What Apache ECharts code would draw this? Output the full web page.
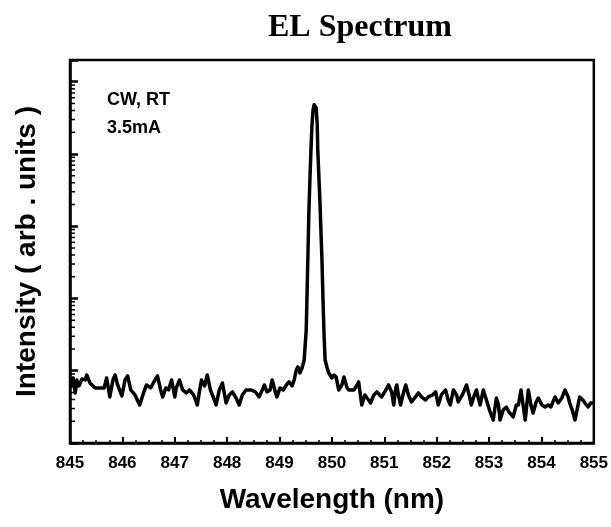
<!DOCTYPE html>
<html>
<head>
<meta charset="utf-8">
<title>EL Spectrum</title>
<script src="https://cdn.jsdelivr.net/npm/echarts@6/dist/echarts.min.js"></script>
<style>
    html, body { margin: 0; padding: 0; background: #fff; }
    #main { width: 611px; height: 527px; }
</style>
</head>
<body>
<div id="main"></div>
<script>
// wavelength (nm)
var wavelength = [
    845.02, 845.06, 845.10, 845.13, 845.17, 845.23, 845.29, 845.32, 845.38, 845.48,
    845.57, 845.65, 845.70, 845.76, 845.82, 845.86, 845.91, 845.99, 846.05, 846.10,
    846.16, 846.24, 846.33, 846.41, 846.46, 846.54, 846.62, 846.67, 846.73, 846.77,
    846.83, 846.88, 846.94, 847.00, 847.03, 847.09, 847.15, 847.22, 847.28, 847.36,
    847.43, 847.47, 847.51, 847.57, 847.62, 847.68, 847.74, 847.79, 847.85, 847.91,
    847.98, 848.04, 848.10, 848.17, 848.23, 848.29, 848.36, 848.46, 848.54, 848.61,
    848.67, 848.71, 848.76, 848.82, 848.86, 848.92, 848.95, 849.01, 849.07, 849.13,
    849.18, 849.24, 849.28, 849.32, 849.35, 849.39, 849.43, 849.47, 849.51, 849.54,
    849.56, 849.58, 849.60, 849.62, 849.64, 849.66, 849.68, 849.70, 849.72, 849.73,
    849.75, 849.77, 849.79, 849.81, 849.83, 849.85, 849.87, 849.91, 849.94, 850.00,
    850.04, 850.08, 850.13, 850.19, 850.23, 850.29, 850.32, 850.42, 850.48, 850.51,
    850.57, 850.63, 850.67, 850.70, 850.74, 850.80, 850.86, 850.91, 850.95, 851.03,
    851.08, 851.14, 851.18, 851.22, 851.24, 851.27, 851.31, 851.37, 851.41, 851.46,
    851.52, 851.58, 851.65, 851.71, 851.79, 851.84, 851.92, 851.98, 852.03, 852.09,
    852.17, 852.22, 852.26, 852.32, 852.38, 852.41, 852.49, 852.57, 852.62, 852.66,
    852.72, 852.76, 852.79, 852.83, 852.89, 852.95, 853.02, 853.08, 853.14, 853.18,
    853.21, 853.27, 853.33, 853.38, 853.46, 853.52, 853.56, 853.61, 853.65, 853.69,
    853.75, 853.80, 853.84, 853.90, 853.94, 854.01, 854.07, 854.13, 854.18, 854.26,
    854.32, 854.39, 854.45, 854.51, 854.54, 854.60, 854.64, 854.70, 854.73, 854.79,
    854.83, 854.89, 854.94, 854.98
];

// intensity (arb. units), log axis
var intensity = [
    6.36, 7.95, 4.93, 7.46, 6.16, 7.70, 7.46, 8.74, 6.78, 5.78,
    5.78, 5.78, 7.95, 4.34, 7.46, 8.74, 6.36, 4.48, 7.46, 8.47,
    5.42, 4.62, 3.36, 5.09, 6.36, 5.78, 7.46, 8.47, 5.42, 4.34,
    5.78, 5.42, 7.46, 4.34, 5.78, 7.46, 5.42, 4.93, 5.42, 4.62,
    3.36, 5.09, 7.46, 6.16, 8.74, 5.42, 4.20, 3.36, 5.42, 6.78,
    3.58, 4.62, 5.09, 4.20, 3.36, 4.62, 5.42, 5.42, 5.09, 4.34,
    5.42, 6.36, 5.09, 5.42, 7.46, 5.09, 4.34, 5.78, 5.42, 6.36,
    7.00, 6.16, 7.46, 10.26, 11.29, 9.32, 10.93, 14.11, 36.7, 342,
    1530, 4390, 11430, 25370, 40950, 48010, 49580, 43640, 25370, 11430,
    5150, 2320, 892, 342, 95.6, 31.3, 14.11, 10.93, 9.32, 7.95,
    8.74, 8.21, 5.42, 6.36, 8.21, 5.78, 5.42, 5.42, 6.36, 7.00,
    3.36, 4.62, 4.20, 3.94, 3.58, 4.62, 5.09, 4.62, 4.34, 5.42,
    6.36, 5.09, 3.36, 5.78, 6.36, 4.62, 3.36, 5.09, 6.36, 4.62,
    3.70, 4.20, 4.93, 4.34, 3.94, 4.34, 4.62, 5.09, 3.36, 4.62,
    5.42, 3.94, 3.36, 5.42, 4.62, 3.70, 4.62, 6.36, 4.62, 3.36,
    4.62, 5.42, 4.34, 3.36, 5.42, 3.94, 2.69, 2.08, 4.20, 3.36,
    2.08, 2.87, 3.15, 2.69, 2.29, 3.36, 3.36, 5.42, 3.36, 2.08,
    5.42, 3.36, 2.60, 3.70, 4.20, 3.36, 3.15, 3.36, 3.15, 4.34,
    3.58, 4.20, 5.42, 4.34, 3.58, 2.69, 2.08, 3.36, 4.34, 3.94,
    3.58, 3.15, 3.58, 3.58
];

var xMin = 845, xMax = 855;
var yMin = 1, yMax = 200000;
var noteLines = ['CW, RT', '3.5mA'];

var sansBold = 'bold 18px "Liberation Sans", Arial, sans-serif';

function toPairs() {
    var result = [];
    for (var i = 0, len = wavelength.length; i < len; i++) {
        result.push([wavelength[i], intensity[i]]);
    }
    return result;
}

var myChart = echarts.init(document.getElementById('main'), null, { renderer: 'canvas' });

myChart.setOption({
    backgroundColor: '#fff',
    animation: false,
    grid: {
        left: 70,
        right: 14,
        top: 60,
        bottom: 84,
        show: true,
        borderColor: '#000',
        borderWidth: 2.5,
        backgroundColor: 'transparent'
    },
    xAxis: {
        type: 'value',
        min: xMin,
        max: xMax,
        interval: 1,
        name: 'Wavelength (nm)',
        nameLocation: 'middle',
        nameGap: 43,
        nameTextStyle: {
            color: '#000',
            fontFamily: '"Liberation Sans", Arial, sans-serif',
            fontWeight: 'bold',
            fontSize: 28
        },
        axisLine: { show: true, lineStyle: { color: '#000', width: 2.5 } },
        axisTick: { show: true, inside: true, length: 6, lineStyle: { color: '#000', width: 2 } },
        minorTick: { show: true, splitNumber: 4, length: 3, lineStyle: { color: '#000', width: 1.5 } },
        axisLabel: {
            margin: 12,
            color: '#000',
            fontFamily: '"Liberation Sans", Arial, sans-serif',
            fontWeight: 'bold',
            fontSize: 17
        },
        splitLine: { show: false }
    },
    yAxis: {
        type: 'log',
        logBase: 10,
        min: yMin,
        max: yMax,
        name: 'Intensity ( arb . units )',
        nameLocation: 'middle',
        nameGap: 29,
        nameTextStyle: {
            color: '#000',
            fontFamily: '"Liberation Sans", Arial, sans-serif',
            fontWeight: 'bold',
            fontSize: 28
        },
        axisLine: { show: true, lineStyle: { color: '#000', width: 2.5 } },
        axisTick: { show: true, inside: true, length: 8, lineStyle: { color: '#000', width: 2.5 } },
        axisLabel: { show: false },
        splitLine: { show: false }
    },
    graphic: [
        {
            id: 'title',
            type: 'text',
            x: 360,
            y: 28,
            style: {
                text: 'EL Spectrum',
                font: 'bold 32px "Liberation Serif", "Times New Roman", serif',
                fill: '#000',
                align: 'center',
                verticalAlign: 'middle',
                textAlign: 'center',
                textVerticalAlign: 'middle'
            }
        },
        {
            id: 'note0',
            type: 'text',
            x: 107,
            y: 100,
            style: {
                text: noteLines[0],
                font: sansBold,
                fill: '#000',
                align: 'left',
                verticalAlign: 'middle',
                textAlign: 'left',
                textVerticalAlign: 'middle'
            }
        },
        {
            id: 'note1',
            type: 'text',
            x: 107,
            y: 128,
            style: {
                text: noteLines[1],
                font: sansBold,
                fill: '#000',
                align: 'left',
                verticalAlign: 'middle',
                textAlign: 'left',
                textVerticalAlign: 'middle'
            }
        }
    ],
    series: [
        {
            name: 'EL',
            type: 'line',
            data: toPairs(),
            showSymbol: false,
            symbol: 'none',
            smooth: false,
            clip: true,
            lineStyle: {
                color: '#000',
                width: 3.5,
                join: 'round',
                cap: 'round'
            }
        }
    ]
});

// minor ticks of the log axis (2..9 in every decade), placed through the axis scale
function drawLogMinorTicks() {
    var x0 = myChart.convertToPixel({ xAxisIndex: 0 }, xMin);
    var lines = [];
    var n = 0;
    for (var k = 0; k <= 5; k++) {
        for (var m = 2; m <= 9; m++) {
            var v = m * Math.pow(10, k);
            if (v > yMax) continue;
            var y = myChart.convertToPixel({ yAxisIndex: 0 }, v);
            lines.push({
                id: 'ym' + (n++),
                type: 'line',
                silent: true,
                shape: { x1: x0, y1: y, x2: x0 + 5, y2: y },
                style: { stroke: '#000', lineWidth: 1.5 }
            });
        }
    }
    myChart.setOption({ graphic: lines });
}

drawLogMinorTicks();
</script>
</body>
</html>
